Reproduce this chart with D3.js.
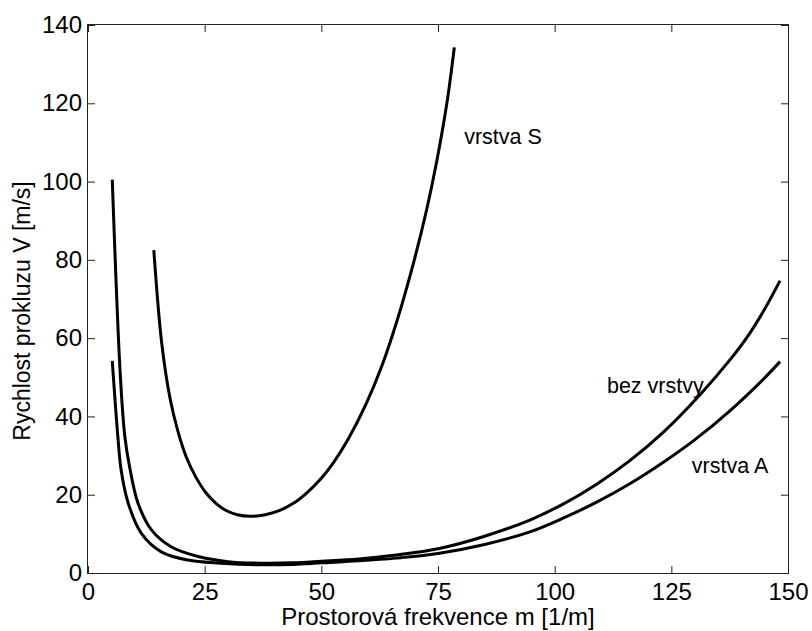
<!DOCTYPE html>
<html>
<head>
<meta charset="utf-8">
<script src="https://cdn.jsdelivr.net/npm/d3@7"></script>
<style>
  body { margin: 0; background: #fff; }
  svg { display: block; font-family: "Liberation Sans", Arial, Helvetica, sans-serif; }
  .axis path { display: none; }
  .axis line { stroke: #222; stroke-width: 1; }
  .axis text { fill: #000; font-size: 24px; }
  .curve { fill: none; stroke: #000; stroke-width: 3; stroke-linejoin: round; }
</style>
</head>
<body>
<div id="chart"></div>
<script>
// bez vrstvy
const mBez = [5.2, 6.9, 7.9, 8.9, 10.7, 13.6, 17.8, 23.6, 30, 37, 44, 50, 58, 66, 75, 85, 94.8, 101.8, 109, 116.1, 123.3, 131.1, 137.6, 141.1, 144.7, 148.3];
const vBez = [100.5, 51, 34.8, 27.2, 17.9, 11, 6.7, 4.2, 2.9, 2.5, 2.6, 3.0, 3.6, 4.6, 6.2, 9.4, 13.6, 17.6, 22.7, 28.7, 36, 45.5, 54.5, 60, 66.8, 74.7];

// vrstva A
const mA = [5.2, 6.4, 7.1, 8.6, 11.4, 15.7, 21.4, 28.5, 36, 44, 50, 58, 66, 75, 85, 94.7, 101.8, 109, 116.1, 123.3, 130, 137.6, 144.7, 148.3];
const vA = [54.2, 34.8, 26.3, 17.9, 10.2, 5.4, 3.3, 2.5, 2.1, 2.2, 2.6, 3.1, 3.8, 5.0, 7.3, 10.5, 14, 18.1, 22.8, 28.3, 34, 41.5, 49.5, 54];

// vrstva S
const mS = [14.1, 15.8, 17.6, 19.2, 21.1, 23.2, 25.4, 27.6, 29.7, 32, 34.7, 38, 41.1, 44, 46.9, 50, 52.6, 55.8, 59.6, 63, 66.1, 69.7, 72.6, 74.7, 76.9, 78.5];
const vS = [82.5, 58.7, 44.5, 36.5, 29.5, 24.3, 20.3, 17.6, 15.9, 14.9, 14.5, 14.9, 16.0, 17.8, 20.5, 24.2, 28.2, 34.3, 43.2, 53, 64, 79, 93, 105, 120, 134.3];

const xTicks = [0, 25, 50, 75, 100, 125, 150];
const yTicks = [0, 20, 40, 60, 80, 100, 120, 140];

const xTitle = "Prostorová frekvence m [1/m]";
const yTitle = "Rychlost prokluzu V [m/s]";

// text labels placed in data units (like matlab text())
const labels = [
  { text: "vrstva S", m: 80.6, v: 109.6 },
  { text: "bez vrstvy", m: 111.2, v: 46 },
  { text: "vrstva A", m: 129.4, v: 25.5 }
];

const width = 812, height = 631;
const margins = { top: 25, right: 24, bottom: 58, left: 88 };

const svg = d3.select("#chart").append("svg")
    .attr("width", width)
    .attr("height", height);

const x = d3.scaleLinear()
    .domain([0, 150])
    .range([margins.left, width - margins.right]);
const y = d3.scaleLinear()
    .domain([0, 140])
    .range([height - margins.bottom, margins.top]);

const tick = 7;

svg.append("g")
    .attr("class", "axis")
    .attr("transform", `translate(0,${y(0)})`)
    .call(d3.axisBottom(x).tickValues(xTicks).tickFormat(d3.format("d"))
      .tickSizeInner(-tick).tickSizeOuter(0).tickPadding(10));

svg.append("g")
    .attr("class", "axis")
    .attr("transform", `translate(${x(0)},0)`)
    .call(d3.axisLeft(y).tickValues(yTicks).tickFormat(d3.format("d"))
      .tickSizeInner(-tick).tickSizeOuter(0).tickPadding(6));

svg.append("g")
    .attr("class", "axis")
    .attr("transform", `translate(0,${y(140)})`)
    .call(d3.axisTop(x).tickValues(xTicks).tickFormat("")
      .tickSizeInner(-tick).tickSizeOuter(0));

svg.append("g")
    .attr("class", "axis")
    .attr("transform", `translate(${x(150)},0)`)
    .call(d3.axisRight(y).tickValues(yTicks).tickFormat("")
      .tickSizeInner(-tick).tickSizeOuter(0));

// box
svg.append("rect")
    .attr("x", x(0) - 0.5)
    .attr("y", y(140) - 0.5)
    .attr("width", x(150) - x(0) + 1)
    .attr("height", y(0) - y(140) + 1)
    .attr("fill", "none")
    .attr("stroke", "#222")
    .attr("stroke-width", 1);

const line = d3.line()
    .x(d => x(d[0]))
    .y(d => y(d[1]))
    .curve(d3.curveCatmullRom.alpha(0.5));

const series = [
  d3.zip(mBez, vBez),
  d3.zip(mA, vA),
  d3.zip(mS, vS)
];

svg.selectAll("path.curve")
  .data(series)
  .enter().append("path")
    .attr("class", "curve")
    .attr("d", line);

svg.selectAll("text.lab")
  .data(labels)
  .enter().append("text")
    .attr("class", "lab")
    .attr("x", d => x(d.m))
    .attr("y", d => y(d.v))
    .style("font-size", "21.5px")
    .text(d => d.text);

svg.append("text")
    .attr("x", (x(0) + x(150)) / 2)
    .attr("y", 625)
    .attr("text-anchor", "middle")
    .style("font-size", "24px")
    .text(xTitle);

svg.append("text")
    .attr("transform", `translate(30,311) rotate(-90)`)
    .attr("text-anchor", "middle")
    .style("font-size", "23px")
    .text(yTitle);
</script>
</body>
</html>
